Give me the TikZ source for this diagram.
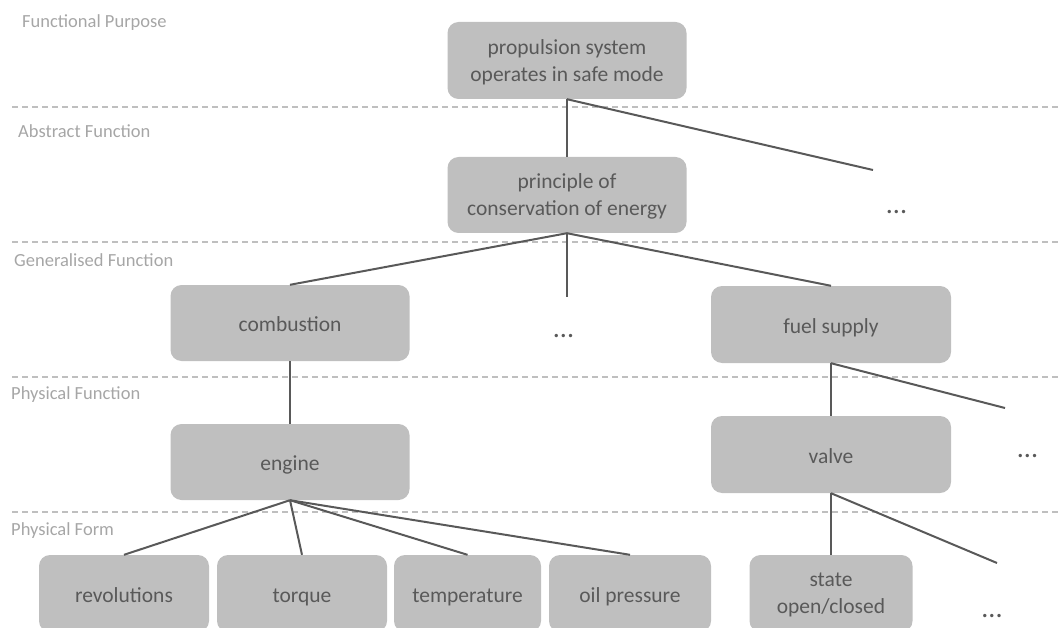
\documentclass[tikz,border=0pt]{standalone}
\usepackage{fontspec}
\setmainfont{Carlito}
\definecolor{boxfill}{HTML}{BFBFBF}
\definecolor{boxtext}{HTML}{595959}
\definecolor{levelgray}{HTML}{A6A6A6}
\definecolor{linkgray}{HTML}{595959}
\definecolor{dashgray}{HTML}{BFBFBF}
\begin{document}
\begin{tikzpicture}[x=1pt,y=-1pt,
  box/.style={fill=boxfill, rounded corners=11pt, text=boxtext, align=center,
    inner sep=0pt, text depth=0pt, font=\fontsize{21.5}{27}\selectfont},
  oneline/.style={text height=17pt},
  level/.style={anchor=base west, text=levelgray, inner sep=0pt,
    font=\fontsize{18.5}{22}\selectfont},
  link/.style={draw=linkgray, line width=2pt},
  divider/.style={draw=dashgray, line width=1.4pt, dash pattern=on 6pt off 4pt},
  more/.style={anchor=base, text=boxtext, inner sep=0pt,
    font=\fontsize{28}{30}\selectfont}]
\useasboundingbox (0,0) rectangle (1059,628);
\clip (0,0) rectangle (1059,628);

% abstraction levels
\draw[divider] (12,107) -- (1059,107);
\draw[divider] (12,242) -- (1059,242);
\draw[divider] (12,377) -- (1059,377);
\draw[divider] (12,512) -- (1059,512);
\node[level] (lfp) at (22,28)  {Functional Purpose};
\node[level] (laf) at (18,138) {Abstract Function};
\node[level] (lgf) at (14,266) {Generalised Function};
\node[level] (lpf) at (11,399) {Physical Function};
\node[level] (lfo) at (11,535) {Physical Form};

% nodes
\node[box, minimum width=239pt, minimum height=77pt] (fp) at (567,60.5)
  {propulsion system\\operates in safe mode};
\node[box, minimum width=239pt, minimum height=76pt] (af) at (567,195)
  {principle of\\conservation of energy};
\node[box, oneline, minimum width=239pt, minimum height=76pt] (comb) at (290,323) {combustion};
\node[box, oneline, minimum width=240pt, minimum height=77pt] (fuel) at (831,324.5) {fuel supply};
\node[box, oneline, minimum width=239pt, minimum height=76pt] (eng) at (290,462) {engine};
\node[box, oneline, minimum width=240pt, minimum height=77pt] (valve) at (831,454.5) {valve};
\node[box, oneline, minimum width=170pt, minimum height=77pt] (rev) at (124,593.5) {revolutions};
\node[box, oneline, minimum width=170pt, minimum height=77pt] (torq) at (302,593.5) {torque};
\node[box, oneline, minimum width=147pt, minimum height=77pt] (temp) at (467.5,593.5) {temperature};
\node[box, oneline, minimum width=162pt, minimum height=77pt] (oil) at (630,593.5) {oil pressure};
\node[box, minimum width=163pt, minimum height=77pt] (state) at (831,593.5)
  {state\\open/closed};

% further, unnamed branches
\node[more] (m1) at (896.5,214) {...};
\node[more] (m2) at (563.5,337) {...};
\node[more] (m3) at (1027.5,457) {...};
\node[more] (m4) at (992,617) {...};
\coordinate (e1) at (873,170);
\coordinate (e2) at (567,297);
\coordinate (e3) at (1005,408);
\coordinate (e4) at (997,563);

% connectors
\draw[link] (fp.south) -- (af.north);
\draw[link] (fp.south) -- (e1);
\draw[link] (af.south) -- (comb.north);
\draw[link] (af.south) -- (e2);
\draw[link] (af.south) -- (fuel.north);
\draw[link] (comb.south) -- (eng.north);
\draw[link] (fuel.south) -- (valve.north);
\draw[link] (fuel.south) -- (e3);
\draw[link] (eng.south) -- (rev.north);
\draw[link] (eng.south) -- (torq.north);
\draw[link] (eng.south) -- (temp.north);
\draw[link] (eng.south) -- (oil.north);
\draw[link] (valve.south) -- (state.north);
\draw[link] (valve.south) -- (e4);
\end{tikzpicture}
\end{document}
